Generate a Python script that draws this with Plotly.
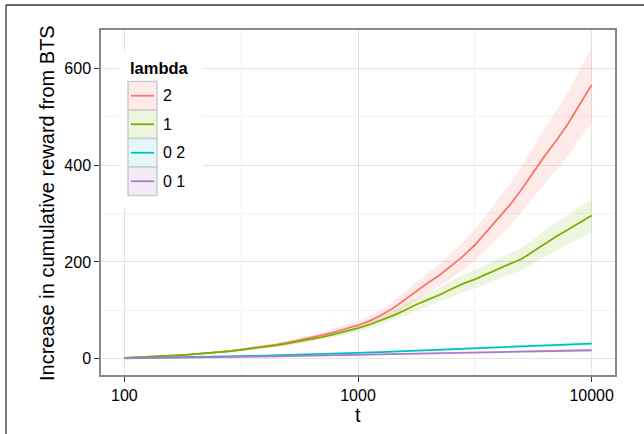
import plotly.graph_objects as go

t = [100, 112, 126, 141, 158, 178, 200, 224, 251, 282, 316, 355, 398, 447, 501, 562, 631, 708, 794, 891,
     1000, 1122, 1259, 1413, 1585, 1778, 1995, 2239, 2512, 2818, 3162, 3548, 3981, 4467, 5012, 5623, 6310,
     7079, 7943, 8913, 10000]

lambdas = ["2", "1", "0 2", "0 1"]
colors = ["#F8766D", "#7CAE00", "#00BFC4", "#A87CC6"]
fills = ["rgba(248,118,109,0.15)", "rgba(124,174,0,0.13)", "rgba(0,191,196,0.10)", "rgba(168,124,198,0.15)"]

red_mean = [1.5, 2.4, 3.4, 4.5, 5.8, 7.3, 9.0, 10.9, 13.0, 15.6, 18.5, 21.5, 25.0, 28.8, 33.0, 37.8, 43.0, 49.0,
            55.0, 61.5, 69, 78, 90, 104, 122, 140, 157, 173, 192, 212, 235, 262, 290, 318, 350, 386, 420, 452,
            487, 527, 566]
red_upper = [2.3, 3.3, 4.4, 5.6, 7.0, 8.6, 10.5, 12.6, 15.0, 17.9, 21.2, 24.6, 28.6, 32.9, 37.7, 43.1, 49.0, 55.8,
             62.6, 70.0, 78.5, 88.7, 102, 118, 139, 159, 178, 196, 218, 241, 267, 298, 329, 361, 397, 438, 477,
             514, 554, 599, 645]
red_lower = [0.8, 1.6, 2.5, 3.5, 4.7, 6.0, 7.5, 9.2, 11.0, 13.3, 15.8, 18.4, 21.4, 24.7, 28.3, 32.5, 37.0, 42.2,
             47.4, 53.0, 59.5, 67.3, 78, 90, 105, 121, 136, 150, 166, 183, 203, 226, 251, 275, 303, 334, 363,
             390, 420, 455, 488]

green_mean = [1.5, 2.4, 3.4, 4.5, 5.8, 7.3, 9.0, 10.8, 12.8, 15.2, 18.0, 20.8, 24.0, 27.5, 31.3, 35.5, 40.0, 45.0,
              50.5, 56.5, 63, 70.5, 79.5, 89, 100, 112, 122, 132, 144, 155, 164, 175, 186, 196, 206, 222, 238,
              253, 267, 281, 296]
green_upper = [2.2, 3.2, 4.3, 5.5, 6.9, 8.5, 10.3, 12.3, 14.5, 17.2, 20.3, 23.4, 27.0, 30.9, 35.1, 39.8, 44.8, 50.3,
               56.4, 63.1, 70.3, 78.7, 88.7, 99.3, 112, 125, 136, 147, 161, 173, 183, 195, 207, 218, 229, 247, 265,
               282, 297, 313, 330]
green_lower = [0.8, 1.6, 2.5, 3.5, 4.7, 6.1, 7.7, 9.3, 11.1, 13.2, 15.7, 18.2, 21.0, 24.1, 27.5, 31.2, 35.2, 39.7,
               44.6, 49.9, 55.7, 62.3, 70.3, 78.7, 88, 99, 108, 117, 127, 137, 145, 155, 165, 174, 183, 197, 211,
               224, 237, 249, 261]

cyan_mean = [0.8, 1.1, 1.4, 1.8, 2.2, 2.6, 3.0, 3.5, 4.0, 4.5, 5.0, 5.6, 6.3, 6.9, 7.5, 8.1, 8.8, 9.5, 10.2, 11.0,
             11.8, 12.6, 13.5, 14.4, 15.3, 16.2, 17.2, 18.2, 19.2, 20.2, 21.2, 22.2, 23.2, 24.3, 25.3, 26.3, 27.3,
             28.3, 29.3, 30.2, 31.0]
cyan_upper = [1.1, 1.4, 1.7, 2.1, 2.6, 3.0, 3.5, 4.0, 4.6, 5.2, 5.8, 6.4, 7.2, 7.9, 8.6, 9.3, 10.1, 10.9, 11.7, 12.6,
              13.5, 14.4, 15.5, 16.5, 17.5, 18.6, 19.7, 20.9, 22.0, 23.2, 24.3, 25.5, 26.6, 27.9, 29.0, 30.2, 31.3,
              32.5, 33.6, 34.7, 35.6]
cyan_lower = [0.5, 0.8, 1.1, 1.5, 1.8, 2.2, 2.5, 3.0, 3.4, 3.8, 4.2, 4.8, 5.4, 5.9, 6.4, 6.9, 7.5, 8.1, 8.7, 9.4,
              10.1, 10.8, 11.5, 12.3, 13.1, 13.8, 14.7, 15.5, 16.4, 17.2, 18.1, 18.9, 19.8, 20.7, 21.6, 22.4, 23.3,
              24.1, 25.0, 25.7, 26.4]

purple_mean = [0.4, 0.6, 0.9, 1.1, 1.4, 1.7, 2.0, 2.3, 2.7, 3.0, 3.4, 3.8, 4.2, 4.6, 5.0, 5.4, 5.9, 6.4, 6.9, 7.4,
               8.0, 8.4, 8.8, 9.2, 9.6, 10.0, 10.5, 10.9, 11.4, 11.8, 12.3, 12.8, 13.3, 13.8, 14.3, 14.8, 15.3,
               15.7, 16.2, 16.7, 17.2]
purple_upper = [0.6, 0.8, 1.1, 1.4, 1.7, 2.1, 2.5, 2.8, 3.3, 3.6, 4.1, 4.6, 5.0, 5.5, 6.0, 6.5, 7.0, 7.6, 8.2, 8.8,
                9.3, 9.8, 10.3, 10.8, 11.3, 11.8, 12.3, 12.8, 13.4, 13.9, 14.5, 15.1, 15.6, 16.3, 16.8, 17.4, 18.0,
                18.5, 19.1, 19.7, 20.3]
purple_lower = [0.2, 0.4, 0.7, 0.9, 1.1, 1.4, 1.6, 1.9, 2.2, 2.5, 2.8, 3.1, 3.4, 3.8, 4.1, 4.4, 4.8, 5.2, 5.6, 6.0,
                6.7, 7.0, 7.3, 7.6, 7.9, 8.2, 8.6, 9.0, 9.4, 9.7, 10.1, 10.5, 10.9, 11.3, 11.7, 12.1, 12.5,
                12.9, 13.3, 13.7, 14.1]

x_ticks = [100, 1000, 10000]
x_ticktext = ["100", "1000", "10000"]
y_ticks = [0, 200, 400, 600]
y_ticktext = ["0", "200", "400", "600"]

series = [
    (red_mean, red_upper, red_lower),
    (green_mean, green_upper, green_lower),
    (cyan_mean, cyan_upper, cyan_lower),
    (purple_mean, purple_upper, purple_lower),
]
for s in series:
    for arr in s:
        assert len(arr) == len(t), len(arr)

FONT = "Liberation Sans, Arial, Helvetica, sans-serif"

fig = go.Figure()
for (m, up, lo), c, f, name in zip(series, colors, fills, lambdas):
    fig.add_trace(go.Scatter(x=t, y=lo, mode="lines", line=dict(width=0), hoverinfo="skip", showlegend=False))
    fig.add_trace(go.Scatter(x=t, y=up, mode="lines", line=dict(width=0), fill="tonexty", fillcolor=f,
                             hoverinfo="skip", showlegend=False))
for (m, up, lo), c, name in zip(series, colors, lambdas):
    fig.add_trace(go.Scatter(x=t, y=m, mode="lines", line=dict(color=c, width=1.8), name=name, showlegend=False))

L, R, T, B = 101, 29, 30, 59
W, H = 644, 434
pw, ph = W - L - R, H - T - B

def px(x):
    return (x - L) / pw

def py(y):
    return (H - B - y) / ph

shapes = []
annotations = []
# outer figure border (cropped)
shapes.append(dict(type="line", xref="paper", yref="paper", x0=px(6), x1=px(6), y0=py(5), y1=py(440),
                   line=dict(color="#333333", width=1.3), layer="above"))
shapes.append(dict(type="line", xref="paper", yref="paper", x0=px(6), x1=px(650), y0=py(5), y1=py(5),
                   line=dict(color="#333333", width=1.3), layer="above"))

# legend (manual)
shapes.append(dict(type="rect", xref="paper", yref="paper", x0=px(119), x1=px(203), y0=py(208), y1=py(52),
                   fillcolor="white", line=dict(width=0), layer="above"))
annotations.append(dict(xref="paper", yref="paper", x=px(128), y=py(68), text="<b>lambda</b>", showarrow=False,
                        xanchor="left", yanchor="middle", font=dict(family=FONT, size=16.5, color="black")))
key_top = 81.5
key_h = 28.5
for i, (name, c, f) in enumerate(zip(lambdas, colors, fills)):
    y0 = key_top + i * key_h
    y1 = y0 + key_h
    shapes.append(dict(type="rect", xref="paper", yref="paper", x0=px(128), x1=px(157), y0=py(y1), y1=py(y0),
                       fillcolor="white", line=dict(width=0), layer="above"))
    shapes.append(dict(type="rect", xref="paper", yref="paper", x0=px(128), x1=px(157), y0=py(y1), y1=py(y0),
                       fillcolor=f, line=dict(color="#CCCCCC", width=1.5), layer="above"))
    yc = (y0 + y1) / 2
    shapes.append(dict(type="line", xref="paper", yref="paper", x0=px(131), x1=px(154), y0=py(yc), y1=py(yc),
                       line=dict(color=c, width=1.8), layer="above"))
    annotations.append(dict(xref="paper", yref="paper", x=px(161), y=py(yc), text=name, showarrow=False,
                            xanchor="left", yanchor="middle", font=dict(family=FONT, size=16, color="black")))

# axis titles
annotations.append(dict(xref="paper", yref="paper", x=0.5, y=py(415), text="t", showarrow=False,
                        xanchor="center", yanchor="middle", font=dict(family=FONT, size=20, color="black")))
annotations.append(dict(xref="paper", yref="paper", x=px(47), y=py(203), text="Increase in cumulative reward from BTS",
                        showarrow=False, textangle=-90, xanchor="center", yanchor="middle",
                        font=dict(family=FONT, size=20, color="black")))

fig.update_layout(
    width=W, height=H,
    margin=dict(l=L, r=R, t=T, b=B, pad=0),
    paper_bgcolor="white", plot_bgcolor="white",
    showlegend=False,
    shapes=shapes, annotations=annotations,
    font=dict(family=FONT, size=16, color="black"),
    xaxis=dict(type="log", range=[1.9, 4.1], tickvals=x_ticks, ticktext=x_ticktext,
               showgrid=True, gridcolor="#E3E3E3", gridwidth=1,
               minor=dict(tickvals=[316.2, 3162], showgrid=True, gridcolor="#F3F3F3", gridwidth=1, ticklen=0),
               showline=True, mirror=True, linecolor="#888888", linewidth=1.5,
               ticks="outside", ticklen=5, tickcolor="#333333", tickwidth=1.2,
               tickfont=dict(family=FONT, size=16, color="black"), zeroline=False),
    yaxis=dict(range=[-34, 680], tickvals=y_ticks, ticktext=y_ticktext,
               showgrid=True, gridcolor="#E3E3E3", gridwidth=1,
               minor=dict(tickvals=[100, 300, 500], showgrid=True, gridcolor="#F3F3F3", gridwidth=1, ticklen=0),
               showline=True, mirror=True, linecolor="#888888", linewidth=1.5,
               ticks="outside", ticklen=5, tickcolor="#333333", tickwidth=1.2,
               tickfont=dict(family=FONT, size=16, color="black"), zeroline=False),
)

fig.write_html("out.html", config={"displayModeBar": False},
               post_script="document.body.style.margin='0';document.body.style.overflow='hidden';")
